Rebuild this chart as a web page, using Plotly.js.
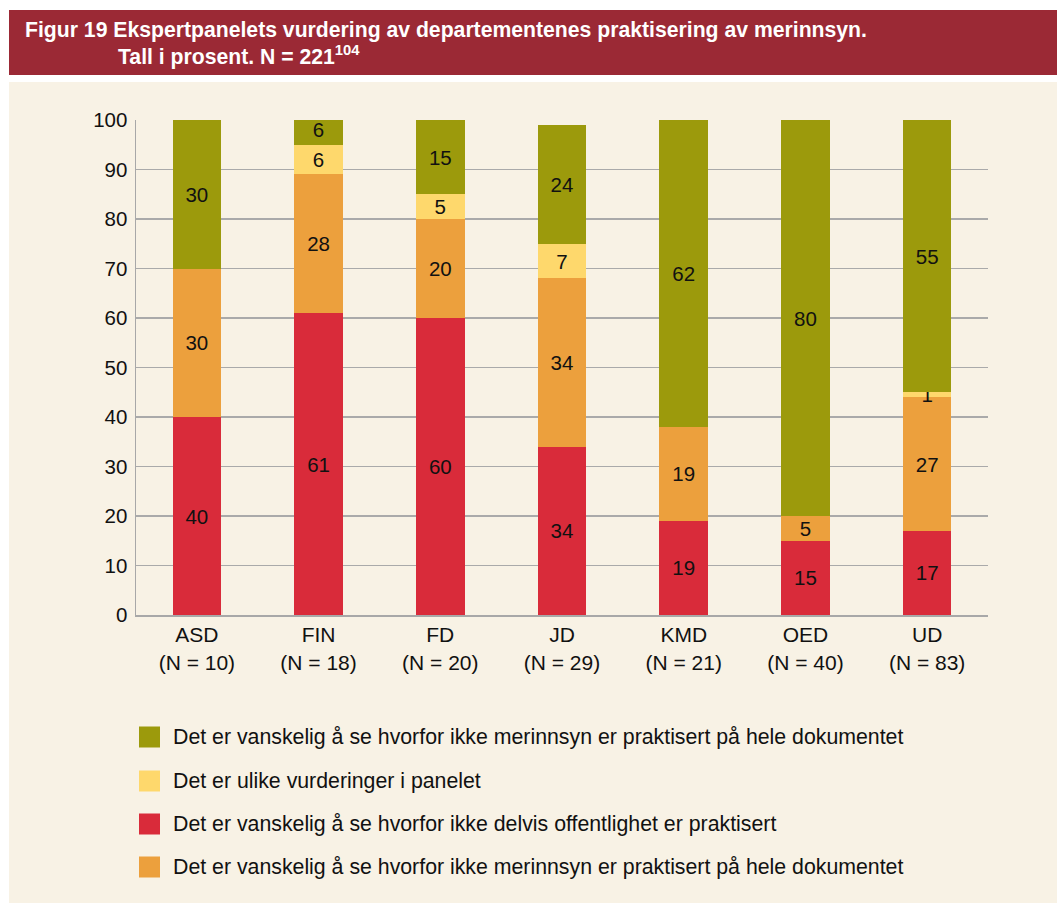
<!DOCTYPE html>
<html>
<head>
<meta charset="utf-8">
<script src="https://cdn.plot.ly/plotly-3.0.1.min.js"></script>
<style>html,body{margin:0;padding:0;background:#fff;}#chart{width:1057px;height:903px;}</style>
</head>
<body>
<div id="chart"></div>
<script>
// ---- data ----
const categories = ['ASD<br>(N = 10)', 'FIN<br>(N = 18)', 'FD<br>(N = 20)', 'JD<br>(N = 29)', 'KMD<br>(N = 21)', 'OED<br>(N = 40)', 'UD<br>(N = 83)'];
const redVals    = [40, 61, 60, 34, 19, 15, 17];
const orangeVals = [30, 28, 20, 34, 19, 5, 27];
const yellowVals = [0, 6, 5, 7, 0, 0, 1];
const greenVals  = [30, 6, 15, 24, 62, 80, 55];
const yTicks = [0, 10, 20, 30, 40, 50, 60, 70, 80, 90, 100];

const seriesNames = [
  'Det er vanskelig å se hvorfor ikke delvis offentlighet er praktisert',
  'Det er vanskelig å se hvorfor ikke merinnsyn er praktisert på hele dokumentet',
  'Det er ulike vurderinger i panelet',
  'Det er vanskelig å se hvorfor ikke merinnsyn er praktisert på hele dokumentet'
];
const colors = ['#d92b3a', '#eca03d', '#fed86c', '#9c9a0c'];
const legendOrder = [3, 2, 0, 1]; // green, yellow, red, orange

const FONT = 'Liberation Sans, Arial, sans-serif';
const W = 1057, H = 903;
const L = 136, R = 988, T = 120, B = 615;

const seriesVals = [redVals, orangeVals, yellowVals, greenVals];
const traces = seriesVals.map((vals, i) => ({
  type: 'bar',
  x: categories,
  y: vals,
  name: seriesNames[i],
  marker: {color: colors[i], line: {width: 0}},
  text: vals.map(v => v === 0 ? '' : String(v)),
  textposition: 'inside',
  insidetextanchor: 'middle',
  constraintext: 'none',
  textangle: 0,
  textfont: {family: FONT, size: 20.5, color: '#111'},
  hoverinfo: 'none',
  showlegend: false
}));

// pixel -> paper (paper is the plot area)
const px = v => (v - L) / (R - L);
const py = v => (B - v) / (B - T);

const shapes = [
  {type: 'rect', xref: 'paper', yref: 'paper', x0: px(9), x1: px(1060), y0: py(82), y1: py(906), fillcolor: '#f8f2e5', line: {width: 0}, layer: 'below'},
  {type: 'rect', xref: 'paper', yref: 'paper', x0: px(9), x1: px(1060), y0: py(10), y1: py(75), fillcolor: '#9b2935', line: {width: 0}, layer: 'below'}
];
const annotations = [
  {xref: 'paper', yref: 'paper', x: px(23), y: py(30), xanchor: 'left', yanchor: 'middle', showarrow: false,
   text: 'Figur 19 Ekspertpanelets vurdering av departementenes praktisering av merinnsyn.', font: {family: FONT, size: 21.2, color: '#fff', weight: 'bold'}},
  {xref: 'paper', yref: 'paper', x: px(116), y: py(55), xanchor: 'left', yanchor: 'middle', showarrow: false,
   text: 'Tall i prosent. N = 221<sup>104</sup>', font: {family: FONT, size: 21.2, color: '#fff', weight: 'bold'}}
];
const legendY = [737, 781, 824, 867];
legendOrder.forEach((si, k) => {
  const cy = legendY[k];
  shapes.push({type: 'rect', xref: 'paper', yref: 'paper', x0: px(139), x1: px(160), y0: py(cy + 10.5), y1: py(cy - 10.5), fillcolor: colors[si], line: {width: 0}});
  annotations.push({xref: 'paper', yref: 'paper', x: px(171), y: py(cy), xanchor: 'left', yanchor: 'middle', showarrow: false,
    text: seriesNames[si], font: {family: FONT, size: 21.3, color: '#111'}});
});

const layout = {
  width: W, height: H,
  margin: {l: L, r: W - R, t: T, b: H - B, pad: 0},
  paper_bgcolor: '#ffffff',
  plot_bgcolor: 'rgba(0,0,0,0)',
  barmode: 'stack',
  bargap: 0.6,
  showlegend: false,
  font: {family: FONT, size: 20, color: '#111'},
  xaxis: {
    type: 'category', showgrid: false, showline: true, linecolor: '#a8a8a8', linewidth: 2,
    ticks: '', tickfont: {family: FONT, size: 21, color: '#111'}, fixedrange: true
  },
  yaxis: {
    range: [0, 100], tickvals: yTicks, ticktext: yTicks.map(String),
    showgrid: true, gridcolor: '#aaaaaa', gridwidth: 1.5,
    showline: true, linecolor: '#a8a8a8', linewidth: 1.5, zeroline: false,
    ticks: '', ticklabelstandoff: 3, tickfont: {family: FONT, size: 20.5, color: '#111'}, fixedrange: true
  },
  shapes: shapes,
  annotations: annotations
};

Plotly.newPlot('chart', traces, layout, {displayModeBar: false, staticPlot: true});
</script>
</body>
</html>
